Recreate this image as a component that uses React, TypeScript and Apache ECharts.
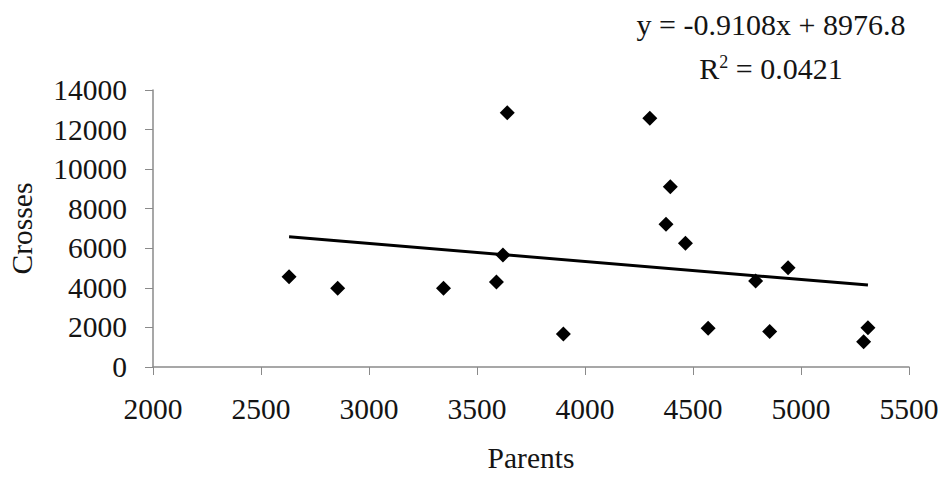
import React, { useEffect, useRef } from "react";
import * as echarts from "echarts";

const parents = [2630, 2855, 3345, 3590, 3620, 3640, 3900, 4300, 4375, 4395, 4465, 4570, 4790, 4855, 4940, 5290, 5310];
const crosses = [4560, 3980, 3980, 4300, 5660, 12850, 1670, 12570, 7210, 9110, 6250, 1960, 4350, 1790, 5020, 1280, 1990];

const slope = -0.9108;
const intercept = 8976.8;
const equationText = "y = -0.9108x + 8976.8";
const r2Value = "0.0421";

const xTicks = { min: 2000, max: 5500, interval: 500 };
const yTicks = { min: 0, max: 14000, interval: 2000 };

const FONT = "'Liberation Serif', 'Times New Roman', serif";
const FS = 29.5;

export default function App() {
  const ref = useRef<HTMLDivElement>(null);
  useEffect(() => {
    document.body.style.margin = "0";
    if (!ref.current) return;
    const chart = echarts.init(ref.current, null, { renderer: "svg" });
    const xMin = Math.min(...parents);
    const xMax = Math.max(...parents);
    const trend = [
      [xMin, slope * xMin + intercept],
      [xMax, slope * xMax + intercept],
    ];
    const axisColor = "#8a8a8a";
    const labelColor = "#141414";
    const fmt = (v: number) => String(v);
    chart.setOption({
      animation: false,
      backgroundColor: "#ffffff",
      grid: {
        left: 153,
        right: 33,
        top: 90,
        bottom: 110,
        containLabel: false,
        outerBoundsMode: "none",
      },
      xAxis: {
        type: "value",
        min: xTicks.min,
        max: xTicks.max,
        interval: xTicks.interval,
        name: "Parents",
        nameLocation: "middle",
        nameGap: 76,
        nameTextStyle: { fontFamily: FONT, fontSize: FS, color: labelColor, lineHeight: 30 },
        axisLine: { show: true, lineStyle: { color: axisColor, width: 1.5 } },
        axisTick: { show: true, inside: false, length: 8, lineStyle: { color: axisColor } },
        splitLine: { show: false },
        axisLabel: { margin: 27, fontFamily: FONT, fontSize: FS, color: labelColor, formatter: fmt },
      },
      yAxis: {
        type: "value",
        min: yTicks.min,
        max: yTicks.max,
        interval: yTicks.interval,
        name: "Crosses",
        nameLocation: "middle",
        nameGap: 116,
        nameRotate: 90,
        nameTextStyle: { fontFamily: FONT, fontSize: FS, color: labelColor },
        axisLine: { show: true, lineStyle: { color: axisColor, width: 1.5 } },
        axisTick: { show: true, inside: false, length: 8, lineStyle: { color: axisColor } },
        splitLine: { show: false },
        axisLabel: { margin: 26, fontFamily: FONT, fontSize: FS, color: labelColor, formatter: fmt },
      },
      series: [
        {
          type: "scatter",
          data: parents.map((p, i) => [p, crosses[i]]),
          symbol: "diamond",
          symbolSize: 15,
          itemStyle: { color: "#000000", opacity: 1 },
          z: 3,
        },
        {
          type: "line",
          data: trend,
          symbol: "none",
          lineStyle: { color: "#000000", width: 3 },
          z: 2,
        },
      ],
      graphic: [
        {
          type: "text",
          x: 771,
          y: 24,
          style: {
            text: equationText,
            fontFamily: FONT,
            fontSize: 30,
            fill: labelColor,
            align: "center",
            verticalAlign: "middle",
          },
        },
        {
          type: "text",
          x: 771,
          y: 68,
          style: {
            text: "R{sup|2} = " + r2Value,
            fontFamily: FONT,
            fontSize: 30,
            fill: labelColor,
            align: "center",
            verticalAlign: "middle",
            rich: {
              sup: { fontFamily: FONT, fontSize: 18, fill: labelColor, verticalAlign: "top", padding: [0, 0, 12, 0] },
            },
          },
        },
      ],
    });
    return () => chart.dispose();
  }, []);
  return <div ref={ref} style={{ width: 942, height: 477 }} />;
}
